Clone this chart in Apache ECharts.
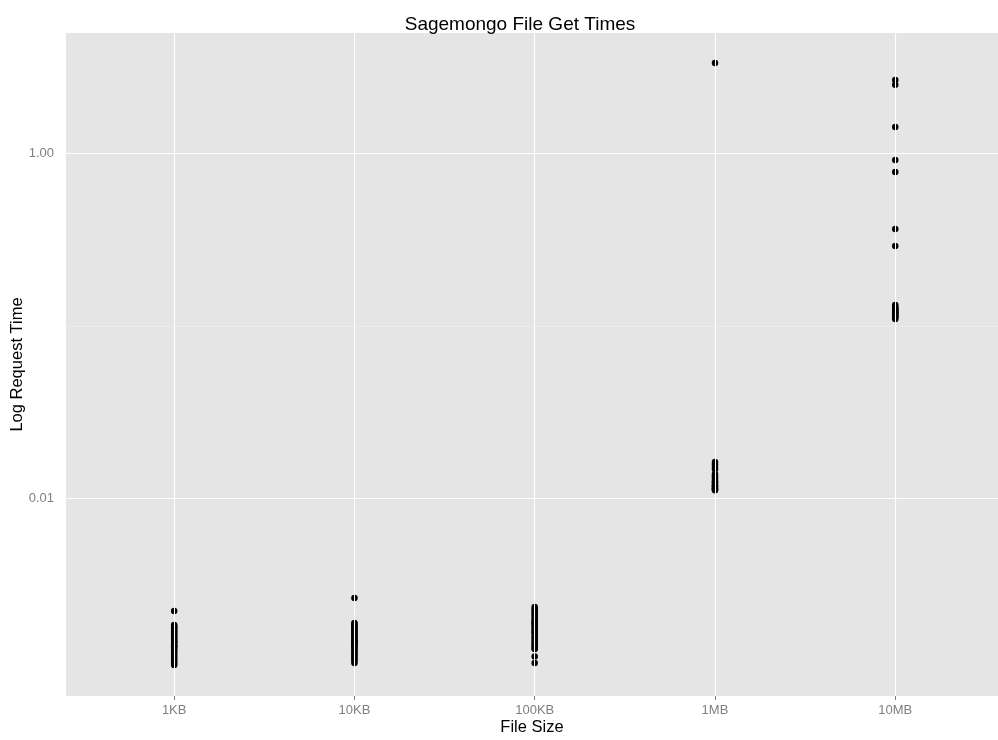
<!DOCTYPE html>
<html>
<head>
<meta charset="utf-8">
<script src="https://cdn.jsdelivr.net/npm/echarts@6/dist/echarts.min.js"></script>
<style>html,body{margin:0;padding:0;background:#fff}#c{width:998px;height:740px}</style>
</head>
<body>
<div id="c"></div>
<script>
const categories = ['1KB', '10KB', '100KB', '1MB', '10MB'];

const times1KB = [0.00224, 0.00186, 0.00183, 0.00180, 0.00177, 0.00174, 0.00171, 0.00168, 0.00165, 0.00162,
  0.00159, 0.00156, 0.00153, 0.00150, 0.00147, 0.00144, 0.00141, 0.00138, 0.00135, 0.00132,
  0.00129, 0.00126, 0.00123, 0.00120, 0.00117, 0.00114, 0.00111, 0.00109, 0.00148, 0.00140];
const times10KB = [0.00266, 0.00191, 0.00188, 0.00185, 0.00181, 0.00178, 0.00175, 0.00172, 0.00169, 0.00166,
  0.00163, 0.00160, 0.00157, 0.00154, 0.00151, 0.00148, 0.00145, 0.00142, 0.00139, 0.00136,
  0.00133, 0.00130, 0.00127, 0.00124, 0.00121, 0.00118, 0.00115, 0.00112, 0.00150, 0.00144];
const times100KB = [0.00236, 0.00230, 0.00225, 0.00220, 0.00215, 0.00210, 0.00205, 0.00200, 0.00196, 0.00192,
  0.00188, 0.00184, 0.00180, 0.00176, 0.00172, 0.00168, 0.00164, 0.00160, 0.00156, 0.00152,
  0.00148, 0.00145, 0.00142, 0.00139, 0.00136, 0.00135, 0.00122, 0.00112, 0.00190, 0.00170];
const times1MB = [3.32, 0.0163, 0.0158, 0.0153, 0.0148, 0.0139, 0.0136, 0.0133, 0.0130, 0.0127,
  0.0124, 0.0121, 0.0119, 0.0117, 0.0115, 0.0113, 0.0112, 0.0125, 0.0118, 0.0114];
const times10MB = [2.646, 2.485, 1.414, 0.911, 0.776, 0.363, 0.290, 0.1319, 0.1290, 0.1262,
  0.1235, 0.1210, 0.1185, 0.1160, 0.1138, 0.1116, 0.1095, 0.1250, 0.1200, 0.1150];

const yMajorValues = [0.01, 1];
const yMajorLabels = ['0.01', '1.00'];
const yMinorValues = [0.001, 0.1];

const seriesTimes = [times1KB, times10KB, times100KB, times1MB, times10MB];
const points = [];
seriesTimes.forEach(function (arr, i) {
  arr.forEach(function (v) { points.push([i, v]); });
});
const catIndex = categories.map(function (_, i) { return i; });

const gridLines = [];
catIndex.forEach(function (i) {
  gridLines.push({ xAxis: i, lineStyle: { color: '#ffffff', width: 1.1, type: 'solid' } });
});
yMajorValues.forEach(function (v) {
  gridLines.push({ yAxis: v, lineStyle: { color: '#ffffff', width: 1.1, type: 'solid' } });
});
yMinorValues.forEach(function (v) {
  gridLines.push({ yAxis: v, lineStyle: { color: '#F2F2F2', width: 0.6, type: 'solid' } });
});

const FONT = 'Liberation Sans, Arial, sans-serif';
const chart = echarts.init(document.getElementById('c'), null, { renderer: 'canvas' });
chart.setOption({
  animation: false,
  backgroundColor: '#ffffff',
  title: {
    text: 'Sagemongo File Get Times',
    left: 515, top: 10, textAlign: 'center',
    textStyle: { color: '#000000', fontSize: 19, fontWeight: 'normal', fontFamily: FONT }
  },
  grid: {
    left: 66, right: 0, top: 33, bottom: 44,
    containLabel: false, outerBoundsMode: 'none',
    show: true, backgroundColor: '#E5E5E5', borderWidth: 0
  },
  xAxis: {
    type: 'value', min: -0.6, max: 4.57,
    name: 'File Size', nameLocation: 'middle', nameGap: 23, nameMoveOverlap: false,
    nameTextStyle: { color: '#000000', fontSize: 16.5, fontFamily: FONT },
    axisLine: { show: false },
    axisTick: { show: true, customValues: catIndex, length: 4, lineStyle: { color: '#7F7F7F', width: 1 } },
    axisLabel: {
      customValues: catIndex, color: '#7F7F7F', fontSize: 13, margin: 8,
      fontFamily: FONT,
      formatter: function (v) { return categories[Math.round(v)]; }
    },
    splitLine: { show: false }
  },
  yAxis: {
    type: 'log', logBase: 10, min: 0.000721, max: 4.95,
    name: 'Log Request Time', nameLocation: 'middle', nameGap: 40, nameRotate: 90, nameMoveOverlap: false,
    nameTextStyle: { color: '#000000', fontSize: 16.5, fontFamily: FONT },
    axisLine: { show: false },
    axisTick: { show: true, customValues: yMajorValues, length: 4, lineStyle: { color: '#7F7F7F', width: 1 } },
    axisLabel: {
      customValues: yMajorValues, color: '#7F7F7F', fontSize: 13, margin: 12,
      fontFamily: FONT,
      formatter: function (v) {
        for (let k = 0; k < yMajorValues.length; k++) {
          if (Math.abs(Math.log10(v) - Math.log10(yMajorValues[k])) < 1e-6) return yMajorLabels[k];
        }
        return '';
      }
    },
    splitLine: { show: false },
    minorSplitLine: { show: false }
  },
  series: [
    {
      type: 'scatter', data: [], z: 1, silent: true,
      markLine: { silent: true, symbol: 'none', label: { show: false }, animation: false, data: gridLines }
    },
    {
      type: 'scatter', z: 3, data: points, symbol: 'circle', symbolSize: 6.5,
      itemStyle: { color: '#000000', opacity: 1, borderWidth: 0 },
      emphasis: { disabled: true }
    }
  ]
});
</script>
</body>
</html>
